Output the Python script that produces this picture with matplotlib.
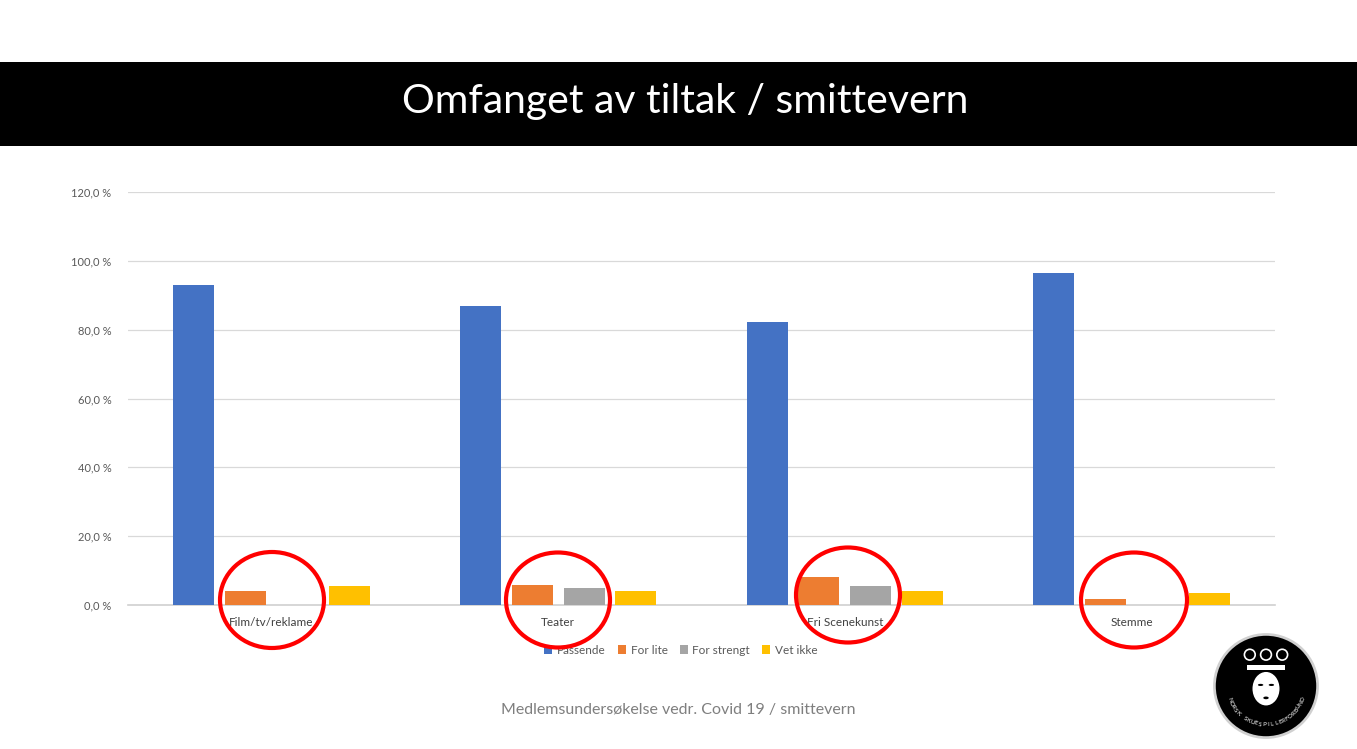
import numpy as np
import matplotlib
matplotlib.use('Agg')
import matplotlib.pyplot as plt
from matplotlib.patches import Ellipse, Circle, Rectangle
from matplotlib.ticker import FuncFormatter

plt.rcParams['font.family'] = ['Lato', 'DejaVu Sans']

categories = ['Film/tv/reklame', 'Teater', 'Fri Scenekunst', 'Stemme']
series = ['Passende', 'For lite', 'For strengt', 'Vet ikke']
passende = [93.0, 86.9, 82.3, 96.5]
for_lite = [4.1, 5.8, 8.1, 1.7]
for_strengt = [0.0, 4.9, 5.5, 0.0]
vet_ikke = [5.5, 4.1, 4.1, 3.5]
colors = ['#4472C4', '#ED7D31', '#A5A5A5', '#FFC000']
yticks = [0, 20, 40, 60, 80, 100, 120]

W, H = 1357, 749
fig = plt.figure(figsize=(W / 100, H / 100), dpi=100)
fig.patch.set_facecolor('white')

# black header band
fig.patches.append(Rectangle((0, 1 - 146 / H), 1, 84 / H, transform=fig.transFigure,
                             facecolor='black', edgecolor='none', zorder=0))
fig.text(685 / W, 1 - 102 / H, 'Omfanget av tiltak / smittevern', color='white',
         fontsize=29.5, ha='center', va='center')

ax = fig.add_axes([128 / W, 1 - 605 / H, (1275 - 128) / W, (605 - 192) / H])
x = np.arange(len(categories))
slot = 0.181
bw = 0.143
data = [passende, for_lite, for_strengt, vet_ikke]
for i, (name, vals, c) in enumerate(zip(series, data, colors)):
    ax.bar(x + (i - 1.5) * slot, vals, bw, color=c, label=name, zorder=2)

ax.set_xlim(-0.5, len(categories) - 0.5)
ax.set_ylim(0, 120)
ax.set_yticks(yticks)
ax.yaxis.set_major_formatter(FuncFormatter(lambda v, p: f'{v:.1f}'.replace('.', ',') + ' %'))
ax.grid(axis='y', color='#d9d9d9', linewidth=0.9, zorder=0)
ax.axhline(0, color='#d0d0d0', linewidth=1.2, clip_on=False, zorder=1)
for s in ax.spines.values():
    s.set_visible(False)
ax.tick_params(axis='both', length=0, labelsize=8, colors='#595959')
ax.tick_params(axis='y', pad=12)
ax.set_xticks(x)
ax.set_xticklabels(categories, fontsize=8.5, color='#404040')
ax.tick_params(axis='x', pad=9)

leg = ax.legend(loc='upper center', bbox_to_anchor=(0.482, -0.07), ncol=4, frameon=False,
                fontsize=8.5, handlelength=0.7, handleheight=0.7, columnspacing=1.0,
                handletextpad=0.4)
for t in leg.get_texts():
    t.set_color('#595959')

# red circles marking the small answers
ellipses = [(272, 600, 104, 96), (558, 600, 104, 95), (848, 595, 104, 95), (1134, 600, 106, 95)]
for cx, cy, ew, eh in ellipses:
    fig.patches.append(Ellipse((cx / W, 1 - cy / H), ew / W, eh / H, transform=fig.transFigure,
                               fill=False, edgecolor='#FF0000', linewidth=3, zorder=5))

fig.text(678 / W, 1 - 710 / H, 'Medlemsundersøkelse vedr. Covid 19 / smittevern',
         color='#7f7f7f', fontsize=11.5, ha='center', va='center')

# logo badge
lax = fig.add_axes([1212 / W, 1 - 740 / H, 108 / W, 108 / H])
lax.set_xlim(-1, 1)
lax.set_ylim(-1, 1)
lax.set_aspect('equal')
lax.axis('off')
lax.add_patch(Circle((0, 0), 0.98, facecolor='#d0d0d0', edgecolor='none'))
lax.add_patch(Circle((0, 0), 0.93, facecolor='black', edgecolor='none'))
for px in (-0.3, 0.0, 0.3):
    lax.add_patch(Circle((px, 0.58), 0.1, facecolor='none', edgecolor='white', linewidth=1.2))
lax.add_patch(Rectangle((-0.35, 0.3), 0.7, 0.08, facecolor='white', edgecolor='none'))
lax.add_patch(Ellipse((0, -0.05), 0.5, 0.62, facecolor='white', edgecolor='none'))
lax.add_patch(Ellipse((-0.1, 0.02), 0.1, 0.04, facecolor='black'))
lax.add_patch(Ellipse((0.1, 0.02), 0.1, 0.04, facecolor='black'))
lax.add_patch(Ellipse((0, -0.22), 0.1, 0.05, facecolor='black'))
txt = 'NORSK SKUESPILLERFORBUND'
angles = np.linspace(200, 340, len(txt))
for ch, a in zip(txt, angles):
    r = 0.72
    th = np.deg2rad(a)
    lax.text(r * np.cos(th), r * np.sin(th), ch, color='white', fontsize=4.5,
             ha='center', va='center', rotation=a + 90)

fig.savefig('out.png', dpi=100, facecolor='white')
